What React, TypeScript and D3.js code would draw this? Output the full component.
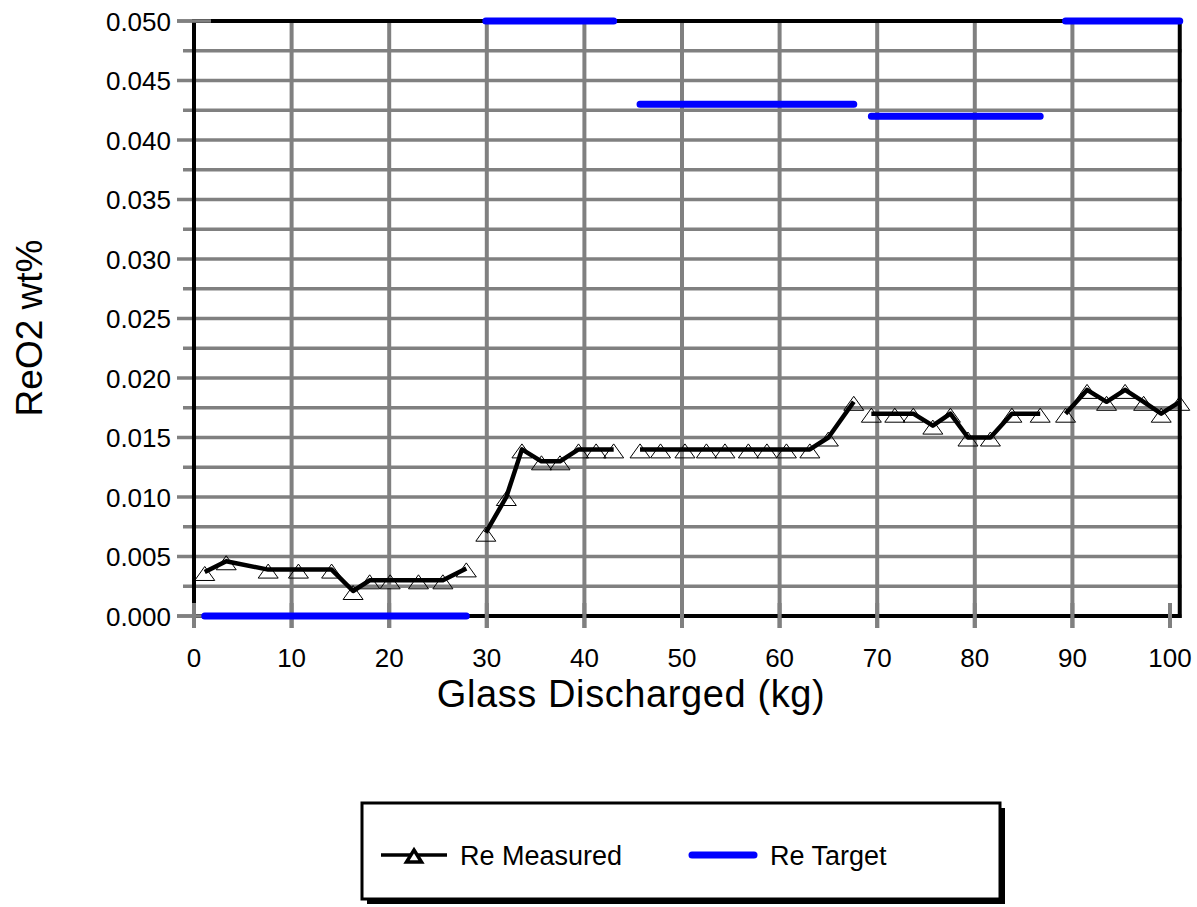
import * as d3 from "d3";
import { useEffect, useRef } from "react";

// Re measured vs target, by glass discharged. null marks a gap between runs.
const measuredX: (number | null)[] = [
  1.1, 3.3, 7.6, 10.7, 14.1, 16.3, 18.0, 20.1, 23.0, 25.5, 27.9, null,
  29.9, 32.0, 33.6, 35.6, 37.5, 39.4, 41.2, 43.0, null,
  45.7, 47.8, 50.3, 52.5, 54.4, 56.8, 58.7, 60.7, 63.1, 65.0, 67.6, null,
  69.4, 71.8, 73.7, 75.7, 77.5, 79.3, 81.6, 83.8, 86.7, null,
  89.3, 91.5, 93.5, 95.4, 97.3, 99.1, 101.0,
];
const measuredY: (number | null)[] = [
  0.0037, 0.0046, 0.0039, 0.0039, 0.0039, 0.0021, 0.003, 0.003, 0.003, 0.003, 0.004, null,
  0.007, 0.01, 0.014, 0.013, 0.013, 0.014, 0.014, 0.014, null,
  0.014, 0.014, 0.014, 0.014, 0.014, 0.014, 0.014, 0.014, 0.014, 0.015, 0.018, null,
  0.017, 0.017, 0.017, 0.016, 0.017, 0.015, 0.015, 0.017, 0.017, null,
  0.017, 0.019, 0.018, 0.019, 0.018, 0.017, 0.018,
];
// target per point (values above the axis are shown clipped at the top)
const targetY: (number | null)[] = [
  0, 0, 0, 0, 0, 0, 0, 0, 0, 0, 0, null,
  0.05, 0.05, 0.05, 0.05, 0.05, 0.05, 0.05, 0.05, null,
  0.043, 0.043, 0.043, 0.043, 0.043, 0.043, 0.043, 0.043, 0.043, 0.043, 0.043, null,
  0.042, 0.042, 0.042, 0.042, 0.042, 0.042, 0.042, 0.042, 0.042, null,
  0.05, 0.05, 0.05, 0.05, 0.05, 0.05, 0.05,
];
const xTicks = [0, 10, 20, 30, 40, 50, 60, 70, 80, 90, 100];
const yTicks = [0, 0.005, 0.01, 0.015, 0.02, 0.025, 0.03, 0.035, 0.04, 0.045, 0.05];
const yMinor = [0.0025, 0.0075, 0.0125, 0.0175, 0.0225, 0.0275, 0.0325, 0.0375, 0.0425, 0.0475];
const legendLabels = ["Re Measured", "Re Target"];

const W = 1197;
const H = 907;
const FONT = "'Liberation Sans', Arial, sans-serif";
const GRID = "#808080";
const BLUE = "#0000ff";

function tri(cx: number, cy: number, w: number, h: number) {
  return `M${cx},${cy - h / 2}L${cx + w / 2},${cy + h / 2}L${cx - w / 2},${cy + h / 2}Z`;
}

export default function App() {
  const svgRef = useRef<SVGSVGElement>(null);

  useEffect(() => {
    if (!svgRef.current) return;
    const svg = d3.select(svgRef.current);
    svg.selectAll("*").remove();

    const x = d3.scaleLinear().domain([0, 100]).range([194, 1170]);
    const y = d3.scaleLinear().domain([0, 0.05]).range([616, 21]);
    const xMax = x(101);

    svg.append("rect").attr("width", W).attr("height", H).attr("fill", "#fff");

    // horizontal grid
    yTicks.forEach((t) => {
      svg.append("line")
        .attr("x1", 177).attr("x2", xMax + 2)
        .attr("y1", y(t)).attr("y2", y(t))
        .attr("stroke", GRID).attr("stroke-width", 3.5);
    });
    yMinor.forEach((t) => {
      svg.append("line")
        .attr("x1", 183).attr("x2", xMax + 2)
        .attr("y1", y(t)).attr("y2", y(t))
        .attr("stroke", GRID).attr("stroke-width", 3.5);
    });
    // vertical grid (last one only shows as a tick)
    xTicks.forEach((t) => {
      if (t === 100) return;
      svg.append("line")
        .attr("x1", x(t)).attr("x2", x(t))
        .attr("y1", y(0.05)).attr("y2", 628)
        .attr("stroke", GRID).attr("stroke-width", 4);
    });

    // frame
    svg.append("rect")
      .attr("x", x(0)).attr("y", y(0.05))
      .attr("width", xMax - x(0)).attr("height", y(0) - y(0.05))
      .attr("fill", "none").attr("stroke", "#000").attr("stroke-width", 4);

    // gray ticks over frame
    xTicks.forEach((t) => {
      svg.append("line")
        .attr("x1", x(t)).attr("x2", x(t))
        .attr("y1", 603).attr("y2", 628)
        .attr("stroke", GRID).attr("stroke-width", 4);
    });
    [0, 0.05].forEach((t) => {
      svg.append("line")
        .attr("x1", 177).attr("x2", 211)
        .attr("y1", y(t)).attr("y2", y(t))
        .attr("stroke", GRID).attr("stroke-width", 3.5);
    });

    // tick labels
    yTicks.forEach((t) => {
      svg.append("text")
        .attr("x", 171).attr("y", y(t) + 9.5)
        .attr("text-anchor", "end")
        .attr("font-family", FONT).attr("font-size", 26)
        .text(d3.format(".3f")(t));
    });
    xTicks.forEach((t) => {
      svg.append("text")
        .attr("x", x(t)).attr("y", 667)
        .attr("text-anchor", "middle")
        .attr("font-family", FONT).attr("font-size", 26)
        .text(t);
    });

    // axis titles
    svg.append("text")
      .attr("x", 631).attr("y", 707)
      .attr("text-anchor", "middle")
      .attr("font-family", FONT).attr("font-size", 38)
      .attr("letter-spacing", 0.6)
      .text("Glass Discharged (kg)");
    svg.append("text")
      .attr("transform", `translate(42,328) rotate(-90)`)
      .attr("text-anchor", "middle")
      .attr("font-family", FONT).attr("font-size", 37)
      .text("ReO2 wt%");

    const idx = d3.range(measuredX.length);

    // target
    const targetLine = d3.line<number>()
      .defined((i) => measuredX[i] != null && targetY[i] != null)
      .x((i) => x(measuredX[i] as number))
      .y((i) => y(targetY[i] as number));
    svg.append("path")
      .attr("d", targetLine(idx))
      .attr("fill", "none").attr("stroke", BLUE)
      .attr("stroke-width", 7).attr("stroke-linecap", "round");

    // measured
    const measLine = d3.line<number>()
      .defined((i) => measuredX[i] != null && measuredY[i] != null)
      .x((i) => x(measuredX[i] as number))
      .y((i) => y(measuredY[i] as number));
    svg.append("path")
      .attr("d", measLine(idx))
      .attr("fill", "none").attr("stroke", "#000")
      .attr("stroke-width", 4.5).attr("stroke-linejoin", "round");
    idx.filter((i) => measuredX[i] != null).forEach((i) => {
      svg.append("path")
        .attr("d", tri(x(measuredX[i] as number), y(measuredY[i] as number) + 1.5, 20, 14))
        .attr("fill", "none").attr("stroke", "#000").attr("stroke-width", 1);
    });

    // legend
    const lg = svg.append("g");
    lg.append("rect")
      .attr("x", 367).attr("y", 808).attr("width", 638).attr("height", 96)
      .attr("fill", "#000");
    lg.append("rect")
      .attr("x", 362).attr("y", 803).attr("width", 638).attr("height", 96)
      .attr("fill", "#fff").attr("stroke", "#000").attr("stroke-width", 3);
    const ly = 855;
    lg.append("line")
      .attr("x1", 381).attr("x2", 447).attr("y1", ly).attr("y2", ly)
      .attr("stroke", "#000").attr("stroke-width", 3.5);
    lg.append("path")
      .attr("d", tri(414, ly + 1, 15, 12))
      .attr("fill", "#fff").attr("stroke", "#000").attr("stroke-width", 3.5);
    lg.append("text")
      .attr("x", 460).attr("y", ly + 10)
      .attr("font-family", FONT).attr("font-size", 27)
      .text(legendLabels[0]);
    lg.append("line")
      .attr("x1", 692).attr("x2", 754).attr("y1", ly).attr("y2", ly)
      .attr("stroke", BLUE).attr("stroke-width", 7).attr("stroke-linecap", "round");
    lg.append("text")
      .attr("x", 770).attr("y", ly + 10)
      .attr("font-family", FONT).attr("font-size", 27)
      .text(legendLabels[1]);
  }, []);

  return (
    <svg
      ref={svgRef}
      width={W}
      height={H}
      viewBox={`0 0 ${W} ${H}`}
      style={{ position: "absolute", left: 0, top: 0, display: "block" }}
    />
  );
}
